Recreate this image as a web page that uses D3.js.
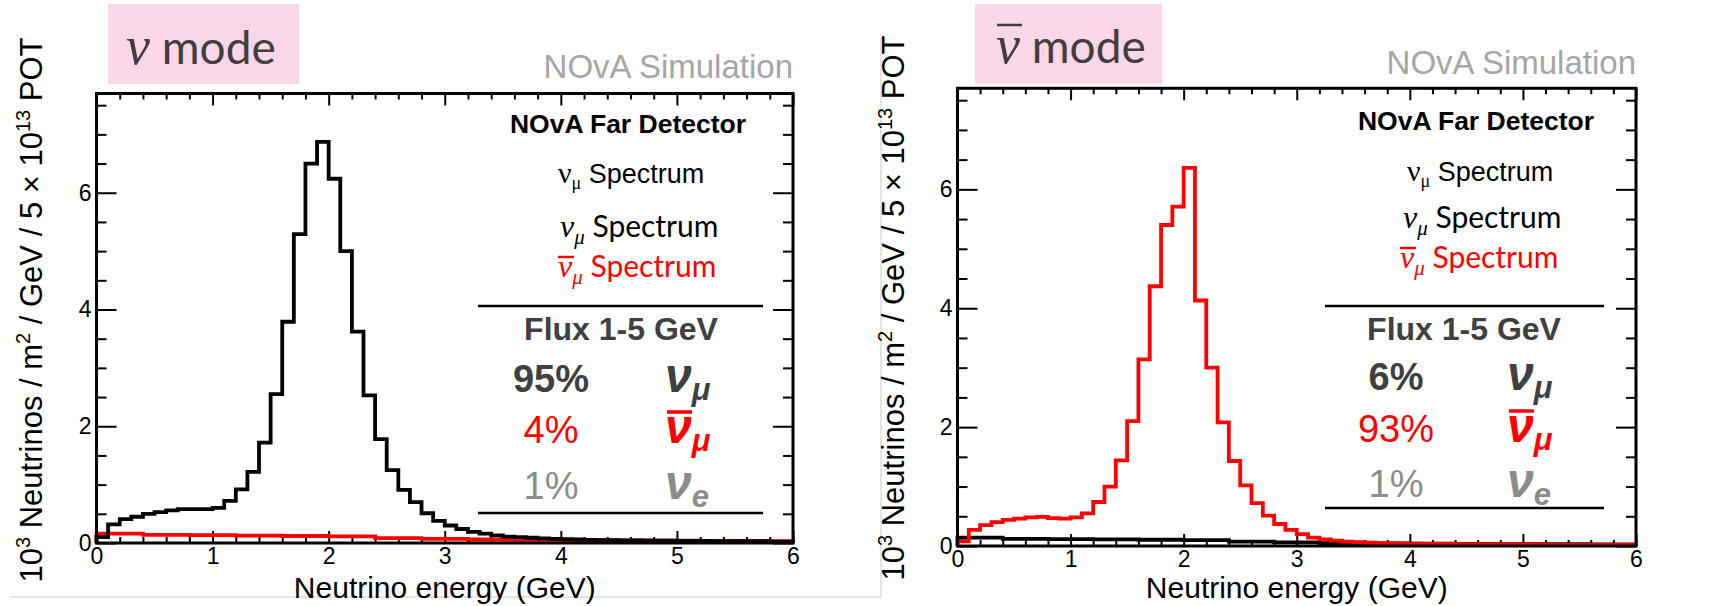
<!DOCTYPE html>
<html>
<head>
<meta charset="utf-8">
<script src="https://cdn.jsdelivr.net/npm/d3@7"></script>
<style>
  body { margin: 0; background: #fff; }
  svg text { font-family: "Liberation Sans", Arial, sans-serif; }
</style>
</head>
<body>
<svg id="chart" width="1718" height="606"></svg>
<script>
// energy axis (GeV) and flux axis (10^3 neutrinos / m^2 / GeV / 5e13 POT)
const energyTicks = [0, 1, 2, 3, 4, 5, 6]
const fluxTicks = [0, 2, 4, 6]
const binWidth = 0.1

// nu mode: numu (main, black) and numubar (wrong sign, red), 0.1 GeV bins from 0 to 6
const nuModeNumu = [
  0.10, 0.32, 0.41, 0.45, 0.50, 0.53, 0.56, 0.58, 0.58, 0.58,
  0.60, 0.72, 0.92, 1.22, 1.72, 2.55, 3.79, 5.29, 6.50, 6.87,
  6.24, 5.00, 3.62, 2.53, 1.78, 1.25, 0.91, 0.70, 0.51, 0.38,
  0.30, 0.24, 0.19, 0.16, 0.13, 0.11, 0.10, 0.09, 0.08, 0.07,
  0.065, 0.06, 0.055, 0.05, 0.05, 0.045, 0.045, 0.04, 0.04, 0.04,
  0.035, 0.035, 0.035, 0.03, 0.03, 0.03, 0.03, 0.03, 0.025, 0.025
]
const nuModeNumubar = [
  0.16, 0.16, 0.16, 0.16, 0.14, 0.14, 0.14, 0.14, 0.135, 0.135,
  0.135, 0.135, 0.125, 0.125, 0.125, 0.125, 0.12, 0.12, 0.12, 0.12,
  0.115, 0.115, 0.115, 0.115, 0.085, 0.085, 0.085, 0.085, 0.07, 0.07,
  0.07, 0.07, 0.06, 0.06, 0.06, 0.06, 0.055, 0.055, 0.055, 0.055,
  0.05, 0.05, 0.05, 0.05, 0.045, 0.045, 0.045, 0.045, 0.04, 0.04,
  0.04, 0.04, 0.035, 0.035, 0.035, 0.035, 0.03, 0.03, 0.03, 0.03
]

// antinu mode: numubar (main, red) and numu (wrong sign, black)
const antinuModeNumubar = [
  0.08, 0.27, 0.35, 0.40, 0.44, 0.46, 0.48, 0.49, 0.47, 0.46,
  0.48, 0.55, 0.74, 1.00, 1.44, 2.10, 3.14, 4.37, 5.40, 5.71,
  6.36, 4.13, 3.00, 2.08, 1.43, 1.02, 0.72, 0.51, 0.37, 0.27,
  0.20, 0.14, 0.11, 0.09, 0.075, 0.065, 0.055, 0.05, 0.045, 0.04,
  0.04, 0.035, 0.035, 0.035, 0.03, 0.03, 0.03, 0.03, 0.025, 0.025,
  0.025, 0.025, 0.02, 0.02, 0.02, 0.02, 0.02, 0.02, 0.02, 0.02
]
const antinuModeNumu = [
  0.14, 0.14, 0.14, 0.14, 0.12, 0.12, 0.12, 0.12, 0.115, 0.115,
  0.115, 0.115, 0.11, 0.11, 0.11, 0.11, 0.105, 0.105, 0.105, 0.105,
  0.10, 0.10, 0.10, 0.10, 0.075, 0.075, 0.075, 0.075, 0.06, 0.06,
  0.06, 0.06, 0.05, 0.05, 0.05, 0.05, 0.045, 0.045, 0.045, 0.045,
  0.04, 0.04, 0.04, 0.04, 0.035, 0.035, 0.035, 0.035, 0.03, 0.03,
  0.03, 0.03, 0.03, 0.03, 0.03, 0.03, 0.025, 0.025, 0.025, 0.025
]

// flux 1-5 GeV composition (numu, numubar, nue)
const nuModeFractions = ["95%", "4%", "1%"]
const antinuModeFractions = ["6%", "93%", "1%"]

const svg = d3.select("#chart")

// faint slide borders
svg.append("line").attr("x1", 10).attr("x2", 881).attr("y1", 597).attr("y2", 597)
    .attr("stroke", "#e4e4e4").attr("stroke-width", 2)
svg.append("line").attr("x1", 881).attr("x2", 881).attr("y1", 37).attr("y2", 597)
    .attr("stroke", "#e4e4e4").attr("stroke-width", 2)

const panels = [
    {
        x0: 96.5, x1: 793, yTop: 93.5, y0: 543,
        main: nuModeNumu, mainColor: "#000",
        wrong: nuModeNumubar, wrongColor: "#ff0000",
        fractions: nuModeFractions, bar: false,
        box: [108, 4, 191, 80], titleX: 126, titleY: 64,
        simY: 78, farX: 628, farY: 133,
        leg: [[558, 183], [560, 237], [558, 277]],
        lineX: [478, 763], line1: 306, line2: 513,
        fluxX: 621, fluxY: 340,
        pctX: 551, symX: 665, rows: [392, 443, 499],
        ytitleX: 42, ytitleY: 310
    },
    {
        x0: 957.5, x1: 1636, yTop: 88.3, y0: 546,
        main: antinuModeNumubar, mainColor: "#ff0000",
        wrong: antinuModeNumu, wrongColor: "#000",
        fractions: antinuModeFractions, bar: true,
        box: [975, 4, 187, 80], titleX: 996, titleY: 63,
        simY: 74, farX: 1476, farY: 130,
        leg: [[1407, 181], [1403, 228], [1400, 268]],
        lineX: [1325, 1604], line1: 306, line2: 508,
        fluxX: 1464, fluxY: 340,
        pctX: 1396, symX: 1507, rows: [390, 442, 497],
        ytitleX: 904, ytitleY: 308
    }
]

panels.forEach(drawPanel)

function drawPanel(p) {
    const x = d3.scaleLinear().domain([0, 6]).range([p.x0, p.x1])
    const y = d3.scaleLinear().domain([0, 7.7]).range([p.y0, p.yTop])
    const g = svg.append("g")

    // pink "mode" label box
    g.append("rect").attr("x", p.box[0]).attr("y", p.box[1])
        .attr("width", p.box[2]).attr("height", p.box[3]).attr("fill", "#fbd5e8")
    const title = g.append("text").attr("x", p.titleX).attr("y", p.titleY).attr("fill", "#3f3f3f")
    title.append("tspan").text("ν").attr("font-family", "Liberation Serif, serif")
        .attr("font-style", "italic").attr("font-size", 54)
    title.append("tspan").text(" mode").attr("font-family", "Lato, sans-serif")
        .attr("font-size", 46)
    if (p.bar) {
        g.append("line").attr("x1", p.titleX + 1).attr("x2", p.titleX + 26)
            .attr("y1", p.titleY - 38).attr("y2", p.titleY - 38)
            .attr("stroke", "#3f3f3f").attr("stroke-width", 2.5)
    }

    g.append("text").attr("x", p.x1).attr("y", p.simY).attr("text-anchor", "end")
        .attr("font-size", 33).attr("fill", "#a6a6a6").text("NOvA Simulation")

    // ticks (ROOT style, pointing inward, on all four sides)
    const minorX = d3.range(0, 6.01, 0.2).filter(v => Math.abs(v - Math.round(v)) > 0.01)
    const minorY = d3.range(0.5, 7.7, 0.5).filter(v => v % 2 !== 0)
    const noLabel = () => ""

    g.append("g").attr("transform", `translate(0,${p.y0})`)
        .call(d3.axisBottom(x).tickValues(energyTicks).tickSize(-12).tickPadding(5)
            .tickFormat(d3.format("d")))
    g.append("g").attr("transform", `translate(0,${p.y0})`)
        .call(d3.axisBottom(x).tickValues(minorX).tickSize(-6).tickFormat(noLabel))
    g.append("g").attr("transform", `translate(0,${p.yTop})`)
        .call(d3.axisTop(x).tickValues(energyTicks).tickSize(-12).tickFormat(noLabel))
    g.append("g").attr("transform", `translate(0,${p.yTop})`)
        .call(d3.axisTop(x).tickValues(minorX).tickSize(-6).tickFormat(noLabel))
    g.append("g").attr("transform", `translate(${p.x0},0)`)
        .call(d3.axisLeft(y).tickValues(fluxTicks).tickSize(-20).tickPadding(5)
            .tickFormat(d3.format("d")))
    g.append("g").attr("transform", `translate(${p.x0},0)`)
        .call(d3.axisLeft(y).tickValues(minorY).tickSize(-10).tickFormat(noLabel))
    g.append("g").attr("transform", `translate(${p.x1},0)`)
        .call(d3.axisRight(y).tickValues(fluxTicks).tickSize(-20).tickFormat(noLabel))
    g.append("g").attr("transform", `translate(${p.x1},0)`)
        .call(d3.axisRight(y).tickValues(minorY).tickSize(-10).tickFormat(noLabel))

    g.selectAll(".domain").remove()
    g.selectAll(".tick line").attr("stroke", "#000").attr("stroke-width", 2)
    g.selectAll(".tick text").attr("font-size", 23).attr("fill", "#000")
        .attr("font-family", "Liberation Sans, Arial, sans-serif")

    // histograms: wrong-sign component first, main component on top
    addHist(g, x, y, p.wrong, p.wrongColor)
    addHist(g, x, y, p.main, p.mainColor)

    g.append("rect").attr("x", p.x0).attr("y", p.yTop)
        .attr("width", p.x1 - p.x0).attr("height", p.y0 - p.yTop)
        .attr("fill", "none").attr("stroke", "#000").attr("stroke-width", 3)

    // axis titles
    const yt = g.append("text")
        .attr("transform", `translate(${p.ytitleX},${p.ytitleY}) rotate(-90)`)
        .attr("text-anchor", "middle").attr("font-size", 31).attr("fill", "#000")
    yt.append("tspan").text("10")
    yt.append("tspan").text("3").attr("font-size", 20).attr("dy", -12)
    yt.append("tspan").text(" Neutrinos / m").attr("dy", 12)
    yt.append("tspan").text("2").attr("font-size", 20).attr("dy", -12)
    yt.append("tspan").text(" / GeV / 5 × 10").attr("dy", 12)
    yt.append("tspan").text("13").attr("font-size", 20).attr("dy", -12)
    yt.append("tspan").text(" POT").attr("dy", 12)

    g.append("text").attr("x", (p.x0 + p.x1) / 2).attr("y", 598)
        .attr("text-anchor", "middle").attr("font-size", 30).attr("fill", "#000")
        .text("Neutrino energy (GeV)")

    // legend-like annotations
    g.append("text").attr("x", p.farX).attr("y", p.farY).attr("text-anchor", "middle")
        .attr("font-size", 26.5).attr("font-weight", "bold").attr("fill", "#000")
        .text("NOvA Far Detector")

    const l1 = g.append("text").attr("x", p.leg[0][0]).attr("y", p.leg[0][1])
        .attr("font-size", 27).attr("fill", "#000")
    l1.append("tspan").text("ν").attr("font-family", "Liberation Serif, serif").attr("font-size", 30)
    l1.append("tspan").text("μ").attr("font-family", "Liberation Serif, serif").attr("font-size", 18).attr("dy", 6)
    l1.append("tspan").text(" Spectrum").attr("dy", -6)

    spectrumLabel(g, p.leg[1][0], p.leg[1][1], "#000", false)
    spectrumLabel(g, p.leg[2][0], p.leg[2][1], "#ff0000", true)

    g.append("line").attr("x1", p.lineX[0]).attr("x2", p.lineX[1])
        .attr("y1", p.line1).attr("y2", p.line1).attr("stroke", "#000").attr("stroke-width", 2.5)
    g.append("line").attr("x1", p.lineX[0]).attr("x2", p.lineX[1])
        .attr("y1", p.line2).attr("y2", p.line2).attr("stroke", "#000").attr("stroke-width", 2.5)

    g.append("text").attr("x", p.fluxX).attr("y", p.fluxY).attr("text-anchor", "middle")
        .attr("font-family", "Lato, sans-serif").attr("font-weight", "bold")
        .attr("font-size", 32).attr("fill", "#404040").text("Flux 1-5 GeV")

    const rowColors = ["#404040", "#ff0000", "#8c8c8c"]
    const rowWeights = ["bold", "normal", "normal"]
    const rowSubs = ["μ", "μ", "e"]
    p.fractions.forEach((f, i) => {
        g.append("text").attr("x", p.pctX).attr("y", p.rows[i]).attr("text-anchor", "middle")
            .attr("font-family", "Lato, sans-serif").attr("font-weight", rowWeights[i])
            .attr("font-size", 38).attr("fill", rowColors[i]).text(f)
        const s = g.append("text").attr("x", p.symX).attr("y", p.rows[i])
            .attr("font-family", "Liberation Serif, serif").attr("font-style", "italic")
            .attr("font-weight", "bold").attr("fill", rowColors[i])
        s.append("tspan").text("ν").attr("font-size", 48)
        s.append("tspan").text(rowSubs[i]).attr("font-size", 31).attr("dy", 8)
        if (i === 1) {
            g.append("line").attr("x1", p.symX + 2).attr("x2", p.symX + 27)
                .attr("y1", p.rows[i] - 31).attr("y2", p.rows[i] - 31)
                .attr("stroke", rowColors[i]).attr("stroke-width", 3.5)
        }
    })
}

function spectrumLabel(g, x0, y0, color, bar) {
    const t = g.append("text").attr("x", x0).attr("y", y0).attr("fill", color)
    t.append("tspan").text("ν").attr("font-family", "Liberation Serif, serif")
        .attr("font-style", "italic").attr("font-size", 32)
    t.append("tspan").text("μ").attr("font-family", "Liberation Serif, serif")
        .attr("font-style", "italic").attr("font-size", 21).attr("dy", 7)
    t.append("tspan").text(" Spectrum").attr("font-family", "Lato, sans-serif")
        .attr("font-size", 30).attr("dy", -7)
    if (bar) {
        g.append("line").attr("x1", x0).attr("x2", x0 + 16)
            .attr("y1", y0 - 20).attr("y2", y0 - 20)
            .attr("stroke", color).attr("stroke-width", 2.5)
    }
}

function addHist(g, x, y, values, color) {
    // step outline: start and end on the zero line like a ROOT "hist" draw
    const pts = [[0, 0]]
    values.forEach((v, i) => {
        pts.push([i * binWidth, v])
        pts.push([(i + 1) * binWidth, v])
    })
    pts.push([values.length * binWidth, 0])
    const line = d3.line().x(d => x(d[0])).y(d => y(d[1]))
    g.append("path").datum(pts)
        .attr("d", line)
        .attr("fill", "none")
        .attr("stroke", color)
        .attr("stroke-width", 3.8)
        .attr("stroke-linejoin", "miter")
}
</script>
</body>
</html>
